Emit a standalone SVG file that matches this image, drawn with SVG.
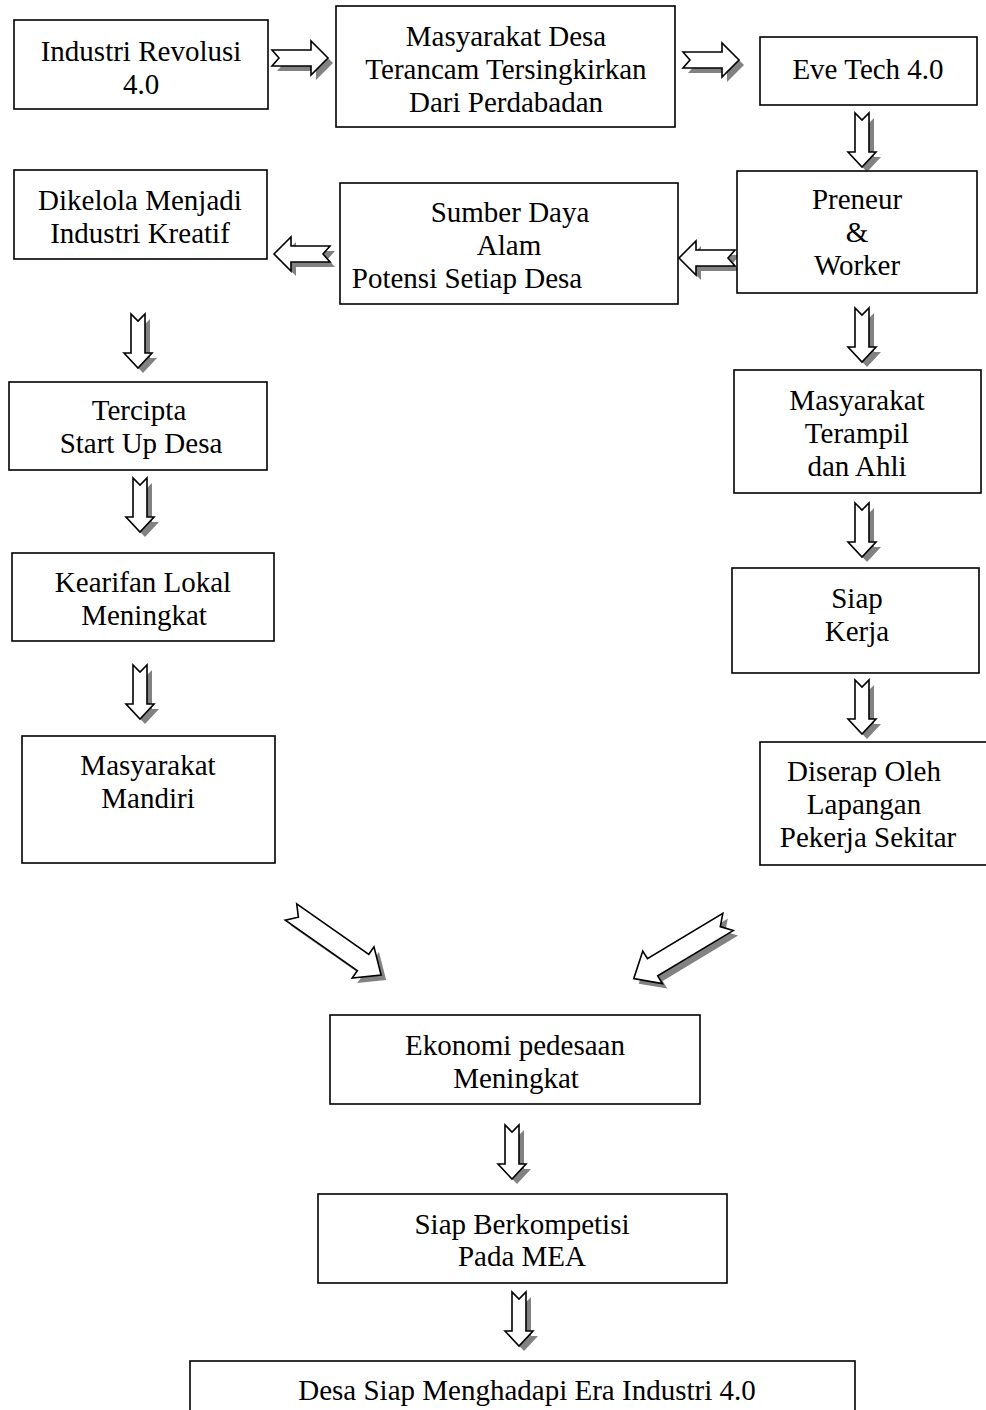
<svg xmlns="http://www.w3.org/2000/svg" xmlns:xlink="http://www.w3.org/1999/xlink" width="986" height="1410" viewBox="0 0 986 1410">
  <style>
    .box { fill: #ffffff; stroke: #000000; stroke-width: 1.6; }
    .lbl { font-family: "Liberation Serif", "Times New Roman", serif; font-size: 29px; fill: #000000; text-anchor: middle; }
    .ar { fill: #ffffff; stroke: #000000; stroke-width: 1.6; stroke-linejoin: miter; }
    .sh { fill: #828282; stroke: none; }
  </style>
  <defs>
    <!-- notched block arrows, drawn from tail (origin) towards +x -->
    <path id="blk-h" d="M0,-8 H39 V-17 L56,0 L39,17 V8 H0 L7,0 Z"/>
    <path id="blk-v" d="M0,-7 H39 V-14 L54,0 L39,14 V7 H0 L7,0 Z"/>
    <path id="blk-d" d="M0,-10 H88 V-19 L110,0 L88,19 V10 H0 L9,0 Z"/>
  </defs>
  <rect width="986" height="1410" fill="#ffffff"/>

  <g id="connectors">
    <!-- horizontal -->
    <g transform="translate(272,58)"><use xlink:href="#blk-h" class="sh" transform="translate(5,5)"/><use xlink:href="#blk-h" class="ar"/></g>
    <g transform="translate(683,60)"><use xlink:href="#blk-h" class="sh" transform="translate(5,5)"/><use xlink:href="#blk-h" class="ar"/></g>
    <g transform="translate(735,258)"><use xlink:href="#blk-h" class="sh" transform="translate(5,5) rotate(180)"/><use xlink:href="#blk-h" class="ar" transform="rotate(180)"/></g>
    <g transform="translate(330,254)"><use xlink:href="#blk-h" class="sh" transform="translate(5,5) rotate(180)"/><use xlink:href="#blk-h" class="ar" transform="rotate(180)"/></g>
    <!-- vertical, right column -->
    <g transform="translate(862,113)"><use xlink:href="#blk-v" class="sh" transform="translate(5,5) rotate(90)"/><use xlink:href="#blk-v" class="ar" transform="rotate(90)"/></g>
    <g transform="translate(862,308)"><use xlink:href="#blk-v" class="sh" transform="translate(5,5) rotate(90)"/><use xlink:href="#blk-v" class="ar" transform="rotate(90)"/></g>
    <g transform="translate(862,503)"><use xlink:href="#blk-v" class="sh" transform="translate(5,5) rotate(90)"/><use xlink:href="#blk-v" class="ar" transform="rotate(90)"/></g>
    <g transform="translate(862,680)"><use xlink:href="#blk-v" class="sh" transform="translate(5,5) rotate(90)"/><use xlink:href="#blk-v" class="ar" transform="rotate(90)"/></g>
    <!-- vertical, left column -->
    <g transform="translate(138,314)"><use xlink:href="#blk-v" class="sh" transform="translate(5,5) rotate(90)"/><use xlink:href="#blk-v" class="ar" transform="rotate(90)"/></g>
    <g transform="translate(140,478)"><use xlink:href="#blk-v" class="sh" transform="translate(5,5) rotate(90)"/><use xlink:href="#blk-v" class="ar" transform="rotate(90)"/></g>
    <g transform="translate(140,665)"><use xlink:href="#blk-v" class="sh" transform="translate(5,5) rotate(90)"/><use xlink:href="#blk-v" class="ar" transform="rotate(90)"/></g>
    <!-- diagonals -->
    <g transform="translate(291,912)"><use xlink:href="#blk-d" class="sh" transform="translate(5,5) rotate(35)"/><use xlink:href="#blk-d" class="ar" transform="rotate(35)"/></g>
    <g transform="translate(728,922)"><use xlink:href="#blk-d" class="sh" transform="translate(5,5) rotate(149)"/><use xlink:href="#blk-d" class="ar" transform="rotate(149)"/></g>
    <!-- vertical, centre -->
    <g transform="translate(512,1125)"><use xlink:href="#blk-v" class="sh" transform="translate(5,5) rotate(90)"/><use xlink:href="#blk-v" class="ar" transform="rotate(90)"/></g>
    <g transform="translate(519,1292)"><use xlink:href="#blk-v" class="sh" transform="translate(5,5) rotate(90)"/><use xlink:href="#blk-v" class="ar" transform="rotate(90)"/></g>
  </g>

  <g id="industri-revolusi">
    <rect class="box" x="14" y="20" width="254" height="89"/>
    <text class="lbl" x="141" y="61">Industri Revolusi</text>
    <text class="lbl" x="141" y="94">4.0</text>
  </g>
  <g id="masyarakat-desa">
    <rect class="box" x="336" y="6" width="339" height="121"/>
    <text class="lbl" x="506" y="46">Masyarakat Desa</text>
    <text class="lbl" x="506" y="79">Terancam Tersingkirkan</text>
    <text class="lbl" x="506" y="112">Dari Perdabadan</text>
  </g>
  <g id="eve-tech">
    <rect class="box" x="760" y="37" width="217" height="68"/>
    <text class="lbl" x="868" y="79">Eve Tech 4.0</text>
  </g>
  <g id="preneur-worker">
    <rect class="box" x="737" y="171" width="240" height="122"/>
    <text class="lbl" x="857" y="209">Preneur</text>
    <text class="lbl" x="857" y="242">&amp;</text>
    <text class="lbl" x="857" y="275">Worker</text>
  </g>
  <g id="sumber-daya">
    <rect class="box" x="340" y="183" width="338" height="121"/>
    <text class="lbl" x="510" y="222">Sumber Daya</text>
    <text class="lbl" x="509" y="255">Alam</text>
    <text class="lbl" x="467" y="288">Potensi Setiap Desa</text>
  </g>
  <g id="dikelola">
    <rect class="box" x="14" y="170" width="253" height="89"/>
    <text class="lbl" x="140" y="210">Dikelola Menjadi</text>
    <text class="lbl" x="140" y="243">Industri Kreatif</text>
  </g>
  <g id="tercipta">
    <rect class="box" x="9" y="382" width="258" height="88"/>
    <text class="lbl" x="139" y="420">Tercipta</text>
    <text class="lbl" x="141" y="453">Start Up Desa</text>
  </g>
  <g id="kearifan">
    <rect class="box" x="12" y="553" width="262" height="88"/>
    <text class="lbl" x="143" y="592">Kearifan Lokal</text>
    <text class="lbl" x="144" y="625">Meningkat</text>
  </g>
  <g id="mandiri">
    <rect class="box" x="22" y="736" width="253" height="127"/>
    <text class="lbl" x="148" y="775">Masyarakat</text>
    <text class="lbl" x="148" y="808">Mandiri</text>
  </g>
  <g id="terampil">
    <rect class="box" x="734" y="370" width="247" height="123"/>
    <text class="lbl" x="857" y="410">Masyarakat</text>
    <text class="lbl" x="857" y="443">Terampil</text>
    <text class="lbl" x="857" y="476">dan Ahli</text>
  </g>
  <g id="siap-kerja">
    <rect class="box" x="732" y="568" width="247" height="105"/>
    <text class="lbl" x="857" y="608">Siap</text>
    <text class="lbl" x="857" y="641">Kerja</text>
  </g>
  <g id="diserap">
    <rect class="box" x="760" y="742" width="240" height="123"/>
    <text class="lbl" x="864" y="781">Diserap Oleh</text>
    <text class="lbl" x="864" y="814">Lapangan</text>
    <text class="lbl" x="868" y="847">Pekerja Sekitar</text>
  </g>
  <g id="ekonomi">
    <rect class="box" x="330" y="1015" width="370" height="89"/>
    <text class="lbl" x="515" y="1055">Ekonomi pedesaan</text>
    <text class="lbl" x="516" y="1088">Meningkat</text>
  </g>
  <g id="siap-berkompetisi">
    <rect class="box" x="318" y="1194" width="409" height="89"/>
    <text class="lbl" x="522" y="1234">Siap Berkompetisi</text>
    <text class="lbl" x="522" y="1266">Pada MEA</text>
  </g>
  <g id="desa-siap">
    <rect class="box" x="190" y="1361" width="665" height="60"/>
    <text class="lbl" x="527" y="1400">Desa Siap Menghadapi Era Industri 4.0</text>
  </g>
</svg>
